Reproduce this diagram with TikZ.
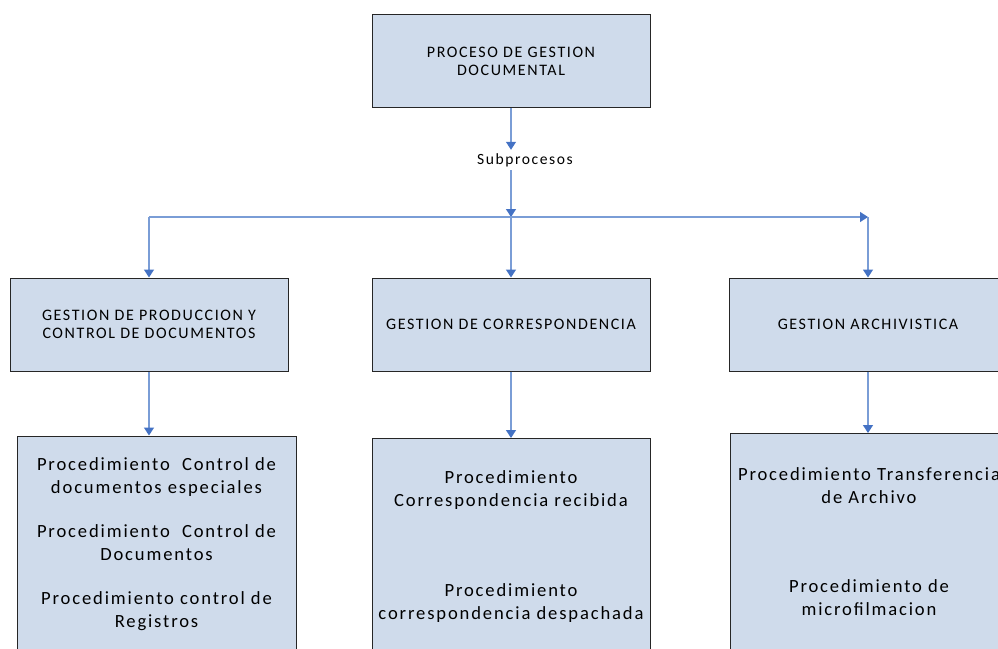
\documentclass[tikz,border=0pt]{standalone}
\usepackage{fontspec}
\setmainfont{Carlito}[LetterSpace=10]
\usetikzlibrary{arrows.meta}
\definecolor{boxfill}{RGB}{207,219,235}
\definecolor{linkblue}{RGB}{122,157,214}
\definecolor{headblue}{RGB}{68,114,196}

\begin{document}
\begin{tikzpicture}[x=1pt, y=1pt,
	box/.style={draw=black!85, line width=1pt, fill=boxfill, align=center, minimum width=278pt, minimum height=93pt, inner sep=0pt},
	head/.style={font=\fontsize{16}{18}\selectfont},
	proc/.style={box, minimum height=216pt, font=\fontsize{18.6}{22.5}\selectfont},
	link/.style={draw=linkblue, line width=1.3pt, -{Triangle[width=10pt,length=8pt,color=headblue]}}]
		\useasboundingbox (0,0) rectangle (998,-648);
		\clip (0,0) rectangle (998,-648);
		\node[box, head] (proceso) at (511,-61) {PROCESO DE GESTION\\DOCUMENTAL};
		\node[font=\fontsize{15.6}{18}\selectfont] (sub) at (525,-160) {Subprocesos};
		\coordinate (split) at (511,-217);
		\node[box, head] (prod) at (149,-324.5) {GESTION DE PRODUCCION Y\\CONTROL DE DOCUMENTOS};
		\node[box, head] (corr) at (511,-324.5) {GESTION DE CORRESPONDENCIA};
		\node[box, head] (arch) at (868,-324.5) {GESTION ARCHIVISTICA};
		\coordinate (left) at (prod.north |- split);
		\coordinate (right) at (arch.north |- split);
		\node[proc, minimum width=279pt] (procprod) at (156.5,-544) {Procedimiento~ Control de\\documentos especiales\\[22pt]
		Procedimiento~ Control de\\Documentos\\[22pt]
		Procedimiento control de\\Registros};
		\node[proc] (proccorr) at (511,-546.5) {Procedimiento\\Correspondencia recibida\\[68pt]
		Procedimiento\\correspondencia despachada};
		\node[proc] (procarch) at (869,-541.5) {Procedimiento Transferencia\\de Archivo\\[67pt]
		Procedimiento de\\microfilmacion};
		% connectors
		\draw[link] (proceso.south) -- (proceso.south |- sub.north);
		\draw[link] (proceso.south |- sub.south) -- (split);
		\draw[link] (split) -- (corr.north);
		\draw[linkblue, line width=1.3pt] (split) -- (left);
		\draw[link] (left) -- (prod.north);
		\draw[link] (split) -- (right);
		\draw[link] (right) -- (arch.north);
		\draw[link] (prod.south) -- (prod.south |- procprod.north);
		\draw[link] (corr.south) -- (proccorr.north);
		\draw[link] (arch.south) -- (arch.south |- procarch.north);
\end{tikzpicture}
\end{document}
